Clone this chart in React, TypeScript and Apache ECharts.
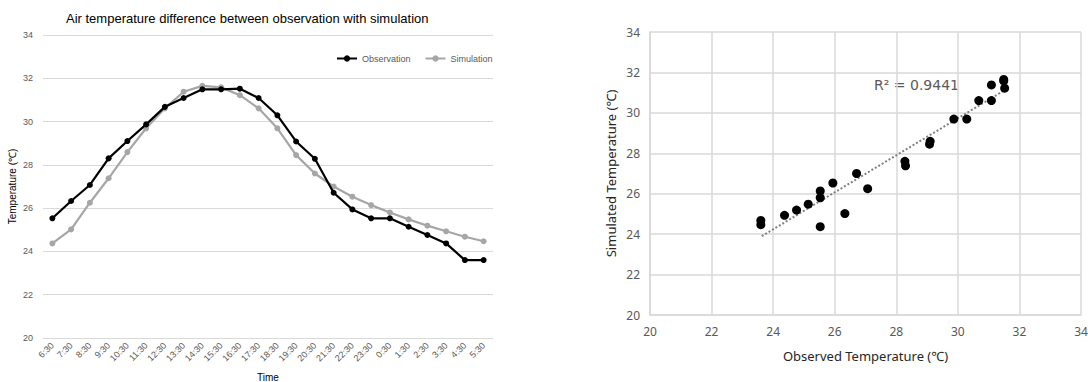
import React, { useEffect, useRef } from "react";
import * as echarts from "echarts";

const times = ["6:30","7:30","8:30","9:30","10:30","11:30","12:30","13:30","14:30","15:30","16:30","17:30","18:30","19:30","20:30","21:30","22:30","23:30","0:30","1:30","2:30","3:30","4:30","5:30"];
const observation = [25.53,26.33,27.07,28.3,29.1,29.87,30.68,31.09,31.49,31.49,31.52,31.09,30.29,29.08,28.28,26.71,25.94,25.53,25.53,25.14,24.76,24.37,23.6,23.6];
const simulation = [24.37,25.02,26.25,27.38,28.59,29.69,30.61,31.38,31.65,31.58,31.22,30.61,29.69,28.45,27.6,27.0,26.53,26.14,25.8,25.48,25.19,24.93,24.68,24.47];
const trendX = [23.63, 31.54];
const trendY = [23.9, 31.14];
const rSquared = "R² = 0.9441";

export default function App() {
  const ref = useRef<HTMLDivElement>(null);
  useEffect(() => {
    const chart = echarts.init(ref.current!, null, { renderer: "svg" });
    const scatterData = observation.map((o, i) => [o, simulation[i]]);
    const trendData = trendX.map((x, i) => [x, trendY[i]]);
    const sansL = "Liberation Sans, Arial, sans-serif";
    const sansR = "Noto Sans, sans-serif";
    chart.setOption({
      animation: false,
      backgroundColor: "#fff",
      title: {
        text: "Air temperature difference between observation with simulation",
        left: 61,
        top: 7,
        textStyle: { fontSize: 13, fontWeight: "normal", color: "#000", fontFamily: sansL },
      },
      legend: {
        left: 331,
        top: 49,
        itemWidth: 20,
        itemHeight: 8,
        itemGap: 14,
        data: ["Observation", "Simulation"],
        textStyle: { fontSize: 9, color: "#595959", fontFamily: sansL },
      },
      grid: [
        { left: 43, top: 35, width: 450, height: 303, outerBoundsMode: "none", containLabel: false },
        { left: 650, top: 32, width: 431, height: 283, outerBoundsMode: "none", containLabel: false },
      ],
      xAxis: [
        {
          type: "category",
          gridIndex: 0,
          data: times,
          boundaryGap: true,
          axisLine: { show: false },
          axisTick: { show: false },
          axisLabel: { rotate: 45, interval: 0, fontSize: 9, color: "#595959", fontFamily: sansL, margin: 6 },
          name: "Time",
          nameLocation: "middle",
          nameGap: 34,
          nameTextStyle: { fontSize: 10, color: "#000", fontFamily: sansL },
        },
        {
          type: "value",
          gridIndex: 1,
          min: 20,
          max: 34,
          interval: 2,
          axisLine: { show: true, lineStyle: { color: "#d9d9d9", width: 1.5 } },
          axisTick: { show: false },
          splitLine: { show: true, lineStyle: { color: "#d9d9d9", width: 1.5 } },
          axisLabel: { fontSize: 12, color: "#595959", fontFamily: sansR, margin: 10 },
          name: "Observed Temperature (℃)",
          nameLocation: "middle",
          nameGap: 34,
          nameTextStyle: { fontSize: 13, color: "#262626", fontFamily: sansR },
        },
      ],
      yAxis: [
        {
          type: "value",
          gridIndex: 0,
          min: 20,
          max: 34,
          interval: 2,
          axisLine: { show: false },
          axisTick: { show: false },
          splitLine: { lineStyle: { color: "#d9d9d9", width: 1 } },
          axisLabel: { fontSize: 9, color: "#595959", fontFamily: sansL, margin: 10 },
          name: "Temperature (℃)",
          nameLocation: "middle",
          nameGap: 26,
          nameTextStyle: { fontSize: 10, color: "#000", fontFamily: sansL },
        },
        {
          type: "value",
          gridIndex: 1,
          min: 20,
          max: 34,
          interval: 2,
          axisLine: { show: true, lineStyle: { color: "#d9d9d9", width: 1.5 } },
          axisTick: { show: false },
          splitLine: { show: true, lineStyle: { color: "#d9d9d9", width: 1.5 } },
          axisLabel: { fontSize: 12, color: "#595959", fontFamily: sansR, margin: 10 },
          name: "Simulated Temperature (℃)",
          nameLocation: "middle",
          nameGap: 33,
          nameTextStyle: { fontSize: 13, color: "#262626", fontFamily: sansR },
        },
      ],
      series: [
        {
          name: "Observation",
          type: "line",
          xAxisIndex: 0,
          yAxisIndex: 0,
          data: observation,
          symbol: "circle",
          symbolSize: 6,
          itemStyle: { color: "#000" },
          lineStyle: { color: "#000", width: 2.2 },
          z: 3,
        },
        {
          name: "Simulation",
          type: "line",
          xAxisIndex: 0,
          yAxisIndex: 0,
          data: simulation,
          symbol: "circle",
          symbolSize: 6,
          itemStyle: { color: "#a6a6a6" },
          lineStyle: { color: "#a6a6a6", width: 2.2 },
          z: 2,
        },
        {
          name: "scatter",
          type: "scatter",
          xAxisIndex: 1,
          yAxisIndex: 1,
          data: scatterData,
          symbolSize: 9,
          itemStyle: { color: "#000", opacity: 1 },
          z: 3,
        },
        {
          name: "trend",
          type: "line",
          xAxisIndex: 1,
          yAxisIndex: 1,
          data: trendData,
          symbol: "none",
          lineStyle: { color: "#808080", width: 2, type: [2, 2] },
          z: 2,
        },
      ],
      graphic: [
        {
          type: "text",
          left: 874,
          top: 78,
          style: { text: rSquared, fontSize: 14, fill: "#595959", fontFamily: "DejaVu Sans, sans-serif" },
        },
      ],
    });
    return () => chart.dispose();
  }, []);
  return <div ref={ref} style={{ position: "absolute", left: 0, top: 0, width: 1088, height: 382 }} />;
}
